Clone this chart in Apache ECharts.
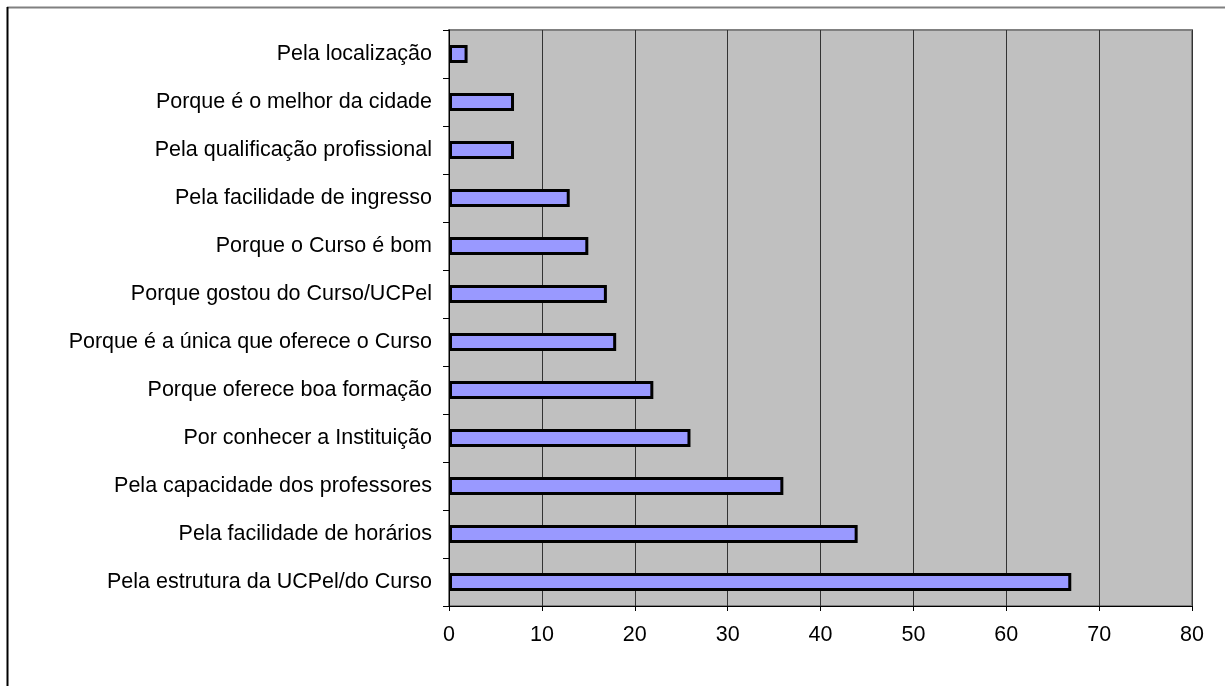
<!DOCTYPE html>
<html>
<head>
<meta charset="utf-8">
<script src="https://cdn.jsdelivr.net/npm/echarts@6/dist/echarts.min.js"></script>
<style>html,body{margin:0;padding:0;background:#fff}#c{width:1225px;height:686px}</style>
</head>
<body>
<div id="c"></div>
<script>
const categories = [
  "Pela estrutura da UCPel/do Curso",
  "Pela facilidade de horários",
  "Pela capacidade dos professores",
  "Por conhecer a Instituição",
  "Porque oferece boa formação",
  "Porque é a única que oferece o Curso",
  "Porque gostou do Curso/UCPel",
  "Porque o Curso é bom",
  "Pela facilidade de ingresso",
  "Pela qualificação profissional",
  "Porque é o melhor da cidade",
  "Pela localização"
];
const values = [67, 44, 36, 26, 22, 18, 17, 15, 13, 7, 7, 2];
const xTicks = [0, 10, 20, 30, 40, 50, 60, 70, 80];

const chart = echarts.init(document.getElementById('c'), null, {renderer: 'canvas'});
chart.setOption({
  animation: false,
  backgroundColor: '#ffffff',
  graphic: [
    {type: 'line', shape: {x1: 7, y1: 7.5, x2: 1225, y2: 7.5}, style: {stroke: '#808080', lineWidth: 2}, silent: true},
    {type: 'line', shape: {x1: 7.5, y1: 7, x2: 7.5, y2: 686}, style: {stroke: '#000000', lineWidth: 2}, silent: true}
  ],
  grid: {
    left: 449, right: 33, top: 30, bottom: 80,
    show: true, backgroundColor: '#c0c0c0', borderColor: '#808080', borderWidth: 2
  },
  xAxis: {
    type: 'value', min: xTicks[0], max: xTicks[xTicks.length - 1], interval: 10,
    axisLine: {show: true, onZero: false, lineStyle: {color: '#000', width: 1}},
    axisTick: {show: true, length: 5, lineStyle: {color: '#000'}},
    axisLabel: {color: '#000', fontFamily: 'Liberation Sans, Arial, sans-serif', fontSize: 21.5, margin: 18},
    splitLine: {show: true, lineStyle: {color: '#333333', width: 1}}
  },
  yAxis: {
    type: 'category', data: categories,
    axisLine: {show: true, lineStyle: {color: '#000', width: 1}},
    axisTick: {show: true, length: 6, lineStyle: {color: '#000'}},
    axisLabel: {color: '#000', fontFamily: 'Liberation Sans, Arial, sans-serif', fontSize: 21.5, margin: 17},
    splitLine: {show: false}
  },
  series: [{
    type: 'bar', data: values, barWidth: '38%',
    itemStyle: {color: '#9999ff', borderColor: '#000', borderWidth: 3}
  }]
});
</script>
</body>
</html>
